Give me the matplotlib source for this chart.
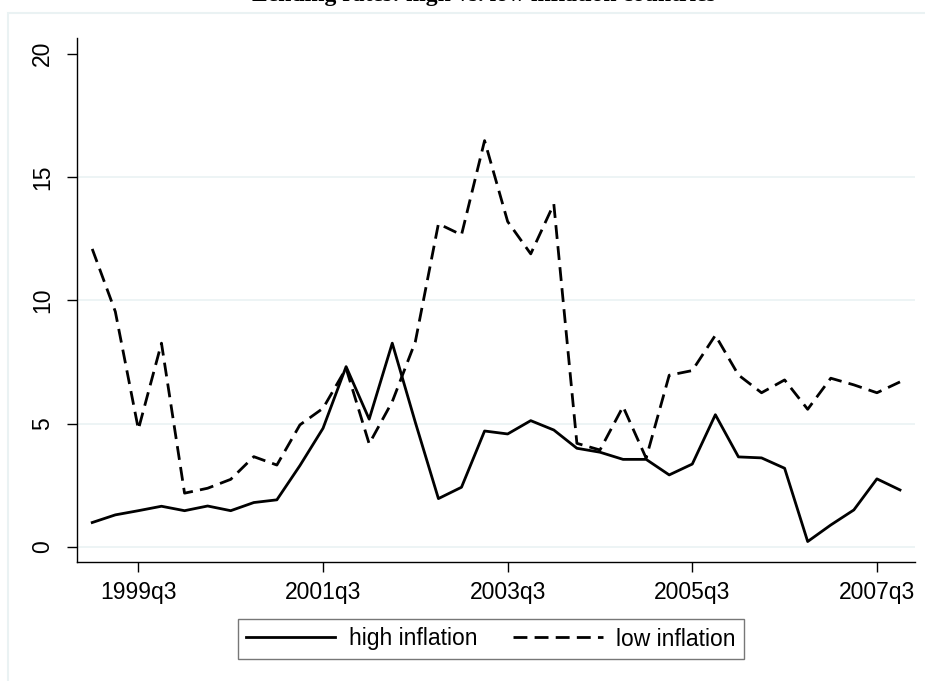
import matplotlib

matplotlib.use('Agg')
import matplotlib.pyplot as plt
from matplotlib.patches import Rectangle

# quarters 1999q1 .. 2007q4
quarters = list(range(36))
tick_pos = [2, 10, 18, 26, 34]
tick_labels = ['1999q3', '2001q3', '2003q3', '2005q3', '2007q3']

high_inflation = [0.99, 1.30, 1.47, 1.65, 1.47, 1.66, 1.47, 1.80, 1.91, 3.30,
                  4.81, 7.31, 5.18, 8.26, 5.05, 1.96, 2.42, 4.70, 4.58, 5.12,
                  4.74, 4.00, 3.84, 3.55, 3.55, 2.92, 3.36, 5.36, 3.65, 3.61,
                  3.19, 0.22, 0.89, 1.50, 2.76, 2.31]
low_inflation = [12.08, 9.54, 4.77, 8.26, 2.18, 2.38, 2.74, 3.66, 3.32, 4.95,
                 5.62, 7.24, 4.18, 5.89, 8.32, 13.10, 12.65, 16.47, 13.19, 11.88,
                 13.90, 4.20, 3.93, 5.69, 3.60, 6.96, 7.15, 8.58, 6.97, 6.25,
                 6.77, 5.58, 6.84, 6.57, 6.25, 6.69]
y_ticks = [0, 5, 10, 15, 20]

title = 'Lending rates: high vs. low inflation countries'

plt.rcParams['font.family'] = ['Liberation Sans', 'DejaVu Sans']

W, H = 925, 681
fig = plt.figure(figsize=(W / 100, H / 100), dpi=100)
fig.patch.set_facecolor('white')

# outer graph region border (stata style)
fig.patches.append(Rectangle((8 / W, 0 - 0.01), 1.0, 1 - 13 / H + 0.01,
                             transform=fig.transFigure, fill=False,
                             edgecolor='#EAF2F3', linewidth=1.5))

ax = fig.add_axes([77 / W, 1 - 562 / H, (915 - 77) / W, (562 - 38) / H])

for v in y_ticks[:-1]:
    ax.axhline(v, color='#EAF2F3', linewidth=1.2, zorder=0)

ax.plot(quarters, high_inflation, color='black', linewidth=2.0,
        label='high inflation')
ax.plot(quarters, low_inflation, color='black', linewidth=2.0,
        dashes=[5, 2.6], label='low inflation')

ax.set_xlim(-0.66, 35.65)
ax.set_ylim(-0.61, 20.63)
ax.set_xticks(tick_pos)
ax.set_xticklabels(tick_labels)
ax.set_yticks(y_ticks)
ax.set_yticklabels([str(v) for v in y_ticks], rotation=90, va='center')

ax.spines['top'].set_visible(False)
ax.spines['right'].set_visible(False)
ax.spines['left'].set_linewidth(1.0)
ax.spines['bottom'].set_linewidth(1.0)
ax.tick_params(axis='both', length=7.5, width=1.0, labelsize=16.5,
               color='black')
ax.tick_params(axis='x', pad=6)
ax.tick_params(axis='y', pad=9)

fig.legend(loc='center', bbox_to_anchor=(491 / W, 1 - 639 / H), ncol=2,
           fontsize=16.5, frameon=True, fancybox=False, edgecolor='#555555',
           handlelength=3.9, handletextpad=0.6, columnspacing=1.55,
           borderpad=0.35)
leg = fig.legends[0]
leg.get_frame().set_linewidth(1.0)

# title sits almost entirely above the canvas, as in the source image
fig.text(484 / W, 1 - 0.5 / H, title, ha='center', va='baseline',
         fontsize=17, fontweight='bold', family=['Liberation Serif'])

fig.savefig('out.png', dpi=100, facecolor='white')
